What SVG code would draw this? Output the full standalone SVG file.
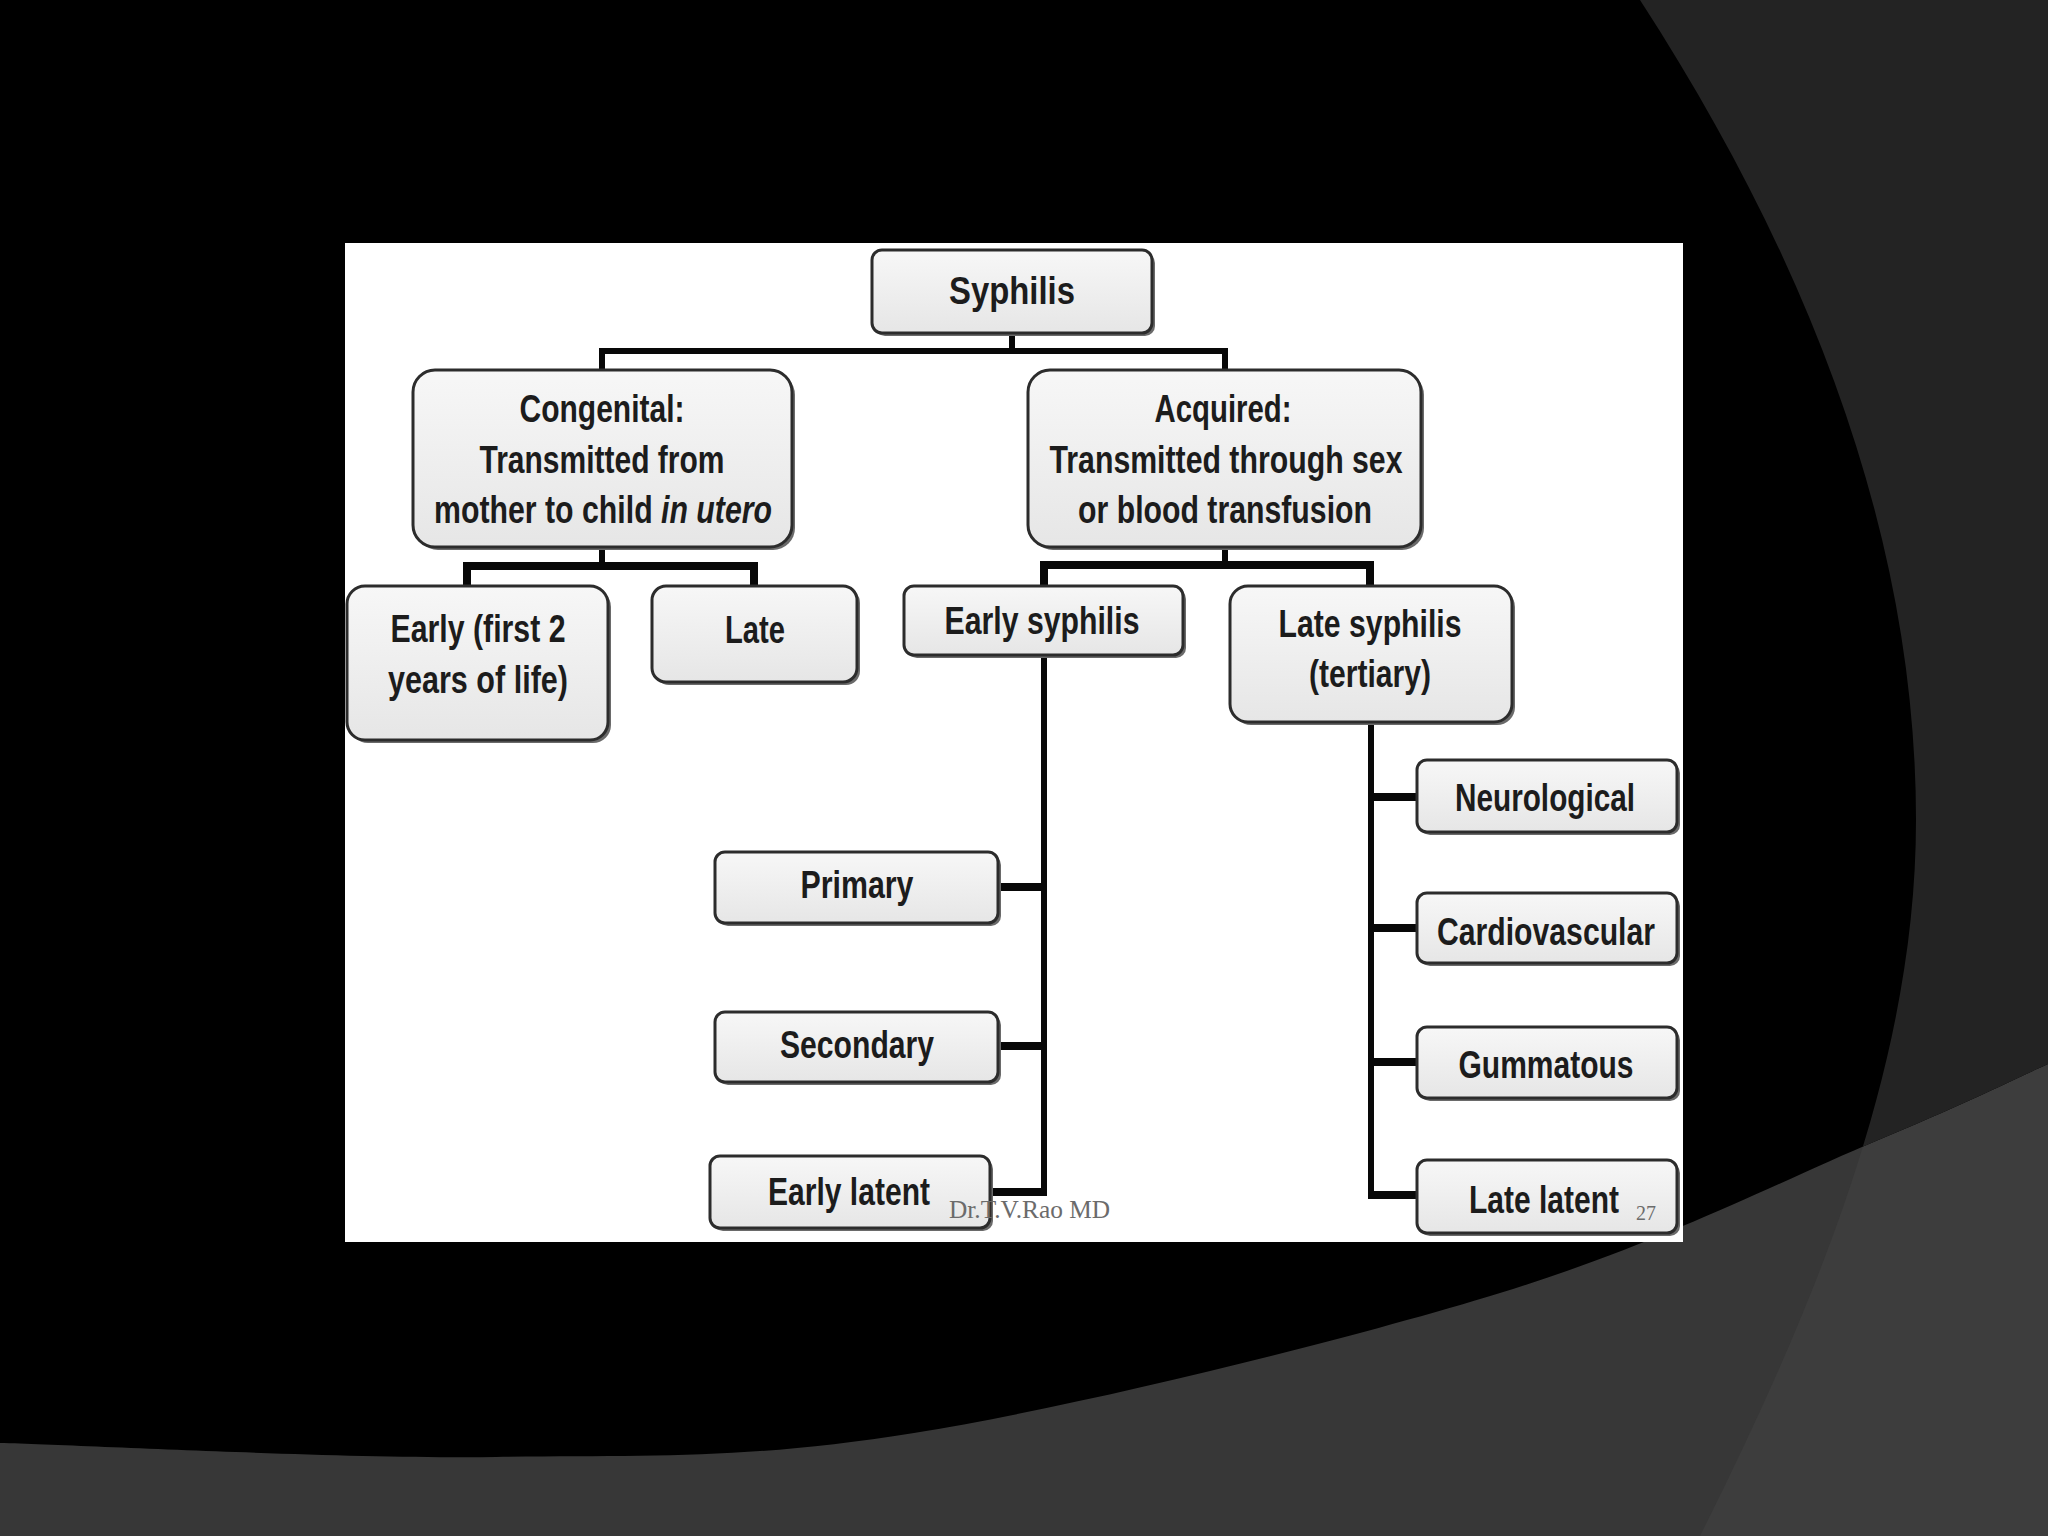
<svg xmlns="http://www.w3.org/2000/svg" width="2048" height="1536" viewBox="0 0 2048 1536">
<defs>
<style>
.sh{fill:#6a6a6a}
.box{fill:url(#bg);stroke:#2c2c2c;stroke-width:3}
.t{font-family:"Liberation Sans",Arial,sans-serif;font-weight:bold;font-size:30px;fill:#1c1c1c;text-anchor:middle}
.s{text-anchor:start}
.c{fill:none;stroke:#080808;stroke-width:6;stroke-linejoin:miter;stroke-linecap:butt}
.b{stroke-width:8}
.w{font-family:"Liberation Serif","Times New Roman",serif;fill:#6b6b6b}
</style>
<linearGradient id="bg" x1="0" y1="0" x2="0" y2="1">
<stop offset="0" stop-color="#f7f7f7"/>
<stop offset="1" stop-color="#e6e6e6"/>
</linearGradient>
<clipPath id="upper">
<path d="M0,0 H2048 V1064 C2019,1077 1967,1103 1876,1141 C1785,1179 1660,1244 1500,1293 C1340,1342 1081,1406 914,1433 C747,1460 648,1455 496,1457 C344,1459 83,1445 0,1443 Z"/>
</clipPath>
</defs>

<g id="background">
<rect width="2048" height="1536" fill="#373737"/>
<path d="M1640,0 C1817,273 1916,547 1916,820 C1916,1060 1820,1296 1700,1536 H2048 V0 Z" fill="#3d3d3d"/>
<g clip-path="url(#upper)">
<rect width="2048" height="1536" fill="#000"/>
<path d="M1640,0 C1817,273 1916,547 1916,820 C1916,1060 1820,1296 1700,1536 H2048 V0 Z" fill="#232323"/>
</g>
<rect x="345" y="243" width="1338" height="999" fill="#ffffff"/>
</g>

<g id="connectors">
<path class="c" d="M1012,333 V351"/>
<path class="c" d="M602,370 V351 H1225 V370"/>
<path class="c" d="M602,547 V566"/>
<path class="c b" d="M467,587 V566 H754 V587"/>
<path class="c" d="M1225,547 V565"/>
<path class="c b" d="M1044,587 V565 H1370 V587"/>
<path class="c" d="M1044,655 V1192"/>
<path class="c b" d="M998,887 H1044 M998,1046 H1044 M990,1192 H1047"/>
<path class="c" d="M1371,722 V1195"/>
<path class="c b" d="M1368,797 H1417 M1368,928 H1417 M1368,1062 H1417 M1368,1195 H1417"/>
</g>

<g id="syphilis">
<rect class="sh" x="875" y="253" width="280" height="83" rx="10"/>
<rect class="box" x="872" y="250" width="280" height="83" rx="10"/>
<text class="t" transform="translate(1012 304) scale(1 1.32)" font-size="38" textLength="126" lengthAdjust="spacingAndGlyphs">Syphilis</text>
</g>

<g id="congenital">
<rect class="sh" x="416" y="373" width="379" height="177" rx="22"/>
<rect class="box" x="413" y="370" width="379" height="177" rx="22"/>
<text class="t" transform="translate(602 422) scale(1 1.28)" textLength="165" lengthAdjust="spacingAndGlyphs">Congenital:</text>
<text class="t" transform="translate(602 473) scale(1 1.28)" textLength="245" lengthAdjust="spacingAndGlyphs">Transmitted from</text>
<text class="t" transform="translate(603 523) scale(1 1.28)" textLength="338" lengthAdjust="spacingAndGlyphs">mother to child <tspan font-style="italic">in utero</tspan></text>
</g>

<g id="acquired">
<rect class="sh" x="1031" y="373" width="393" height="177" rx="22"/>
<rect class="box" x="1028" y="370" width="393" height="177" rx="22"/>
<text class="t" transform="translate(1223 422) scale(1 1.28)" textLength="137" lengthAdjust="spacingAndGlyphs">Acquired:</text>
<text class="t" transform="translate(1226 473) scale(1 1.28)" textLength="353" lengthAdjust="spacingAndGlyphs">Transmitted through sex</text>
<text class="t" transform="translate(1225 523) scale(1 1.28)" textLength="294" lengthAdjust="spacingAndGlyphs">or blood transfusion</text>
</g>

<g id="early-congenital">
<rect class="sh" x="350" y="589" width="261" height="154" rx="18"/>
<rect class="box" x="347" y="586" width="261" height="154" rx="18"/>
<text class="t" transform="translate(478 642) scale(1 1.28)" textLength="175" lengthAdjust="spacingAndGlyphs">Early (first 2</text>
<text class="t" transform="translate(478 693) scale(1 1.28)" textLength="180" lengthAdjust="spacingAndGlyphs">years of life)</text>
</g>

<g id="late-congenital">
<rect class="sh" x="655" y="589" width="205" height="96" rx="14"/>
<rect class="box" x="652" y="586" width="205" height="96" rx="14"/>
<text class="t" transform="translate(755 643) scale(1 1.28)" textLength="60" lengthAdjust="spacingAndGlyphs">Late</text>
</g>

<g id="early-syphilis">
<rect class="sh" x="907" y="589" width="279" height="69" rx="10"/>
<rect class="box" x="904" y="586" width="279" height="69" rx="10"/>
<text class="t" transform="translate(1042 634) scale(1 1.28)" textLength="195" lengthAdjust="spacingAndGlyphs">Early syphilis</text>
</g>

<g id="late-syphilis">
<rect class="sh" x="1233" y="589" width="282" height="136" rx="18"/>
<rect class="box" x="1230" y="586" width="282" height="136" rx="18"/>
<text class="t" transform="translate(1370 637) scale(1 1.28)" textLength="183" lengthAdjust="spacingAndGlyphs">Late syphilis</text>
<text class="t" transform="translate(1370 687) scale(1 1.28)" textLength="122" lengthAdjust="spacingAndGlyphs">(tertiary)</text>
</g>

<g id="primary">
<rect class="sh" x="718" y="855" width="283" height="71" rx="10"/>
<rect class="box" x="715" y="852" width="283" height="71" rx="10"/>
<text class="t" transform="translate(857 898) scale(1 1.28)" textLength="113" lengthAdjust="spacingAndGlyphs">Primary</text>
</g>

<g id="secondary">
<rect class="sh" x="718" y="1015" width="283" height="70" rx="10"/>
<rect class="box" x="715" y="1012" width="283" height="70" rx="10"/>
<text class="t" transform="translate(857 1058) scale(1 1.28)" textLength="154" lengthAdjust="spacingAndGlyphs">Secondary</text>
</g>

<g id="early-latent">
<rect class="sh" x="713" y="1159" width="280" height="72" rx="10"/>
<rect class="box" x="710" y="1156" width="280" height="72" rx="10"/>
<text class="t" transform="translate(849 1205) scale(1 1.28)" textLength="162" lengthAdjust="spacingAndGlyphs">Early latent</text>
</g>

<g id="neurological">
<rect class="sh" x="1420" y="763" width="260" height="72" rx="10"/>
<rect class="box" x="1417" y="760" width="260" height="72" rx="10"/>
<text class="t" transform="translate(1545 811) scale(1 1.28)" textLength="180" lengthAdjust="spacingAndGlyphs">Neurological</text>
</g>

<g id="cardiovascular">
<rect class="sh" x="1420" y="896" width="260" height="70" rx="10"/>
<rect class="box" x="1417" y="893" width="260" height="70" rx="10"/>
<text class="t" transform="translate(1546 945) scale(1 1.28)" textLength="218" lengthAdjust="spacingAndGlyphs">Cardiovascular</text>
</g>

<g id="gummatous">
<rect class="sh" x="1420" y="1030" width="260" height="71" rx="10"/>
<rect class="box" x="1417" y="1027" width="260" height="71" rx="10"/>
<text class="t" transform="translate(1546 1078) scale(1 1.28)" textLength="175" lengthAdjust="spacingAndGlyphs">Gummatous</text>
</g>

<g id="late-latent">
<rect class="sh" x="1420" y="1163" width="260" height="73" rx="10"/>
<rect class="box" x="1417" y="1160" width="260" height="73" rx="10"/>
<text class="t" transform="translate(1544 1213) scale(1 1.28)" textLength="150" lengthAdjust="spacingAndGlyphs">Late latent</text>
</g>

<g id="footer">
<text class="w" x="949" y="1218" font-size="25" textLength="161" lengthAdjust="spacingAndGlyphs">Dr.T.V.Rao MD</text>
<text class="w" x="1636" y="1220" font-size="21" textLength="20" lengthAdjust="spacingAndGlyphs">27</text>
</g>
</svg>
